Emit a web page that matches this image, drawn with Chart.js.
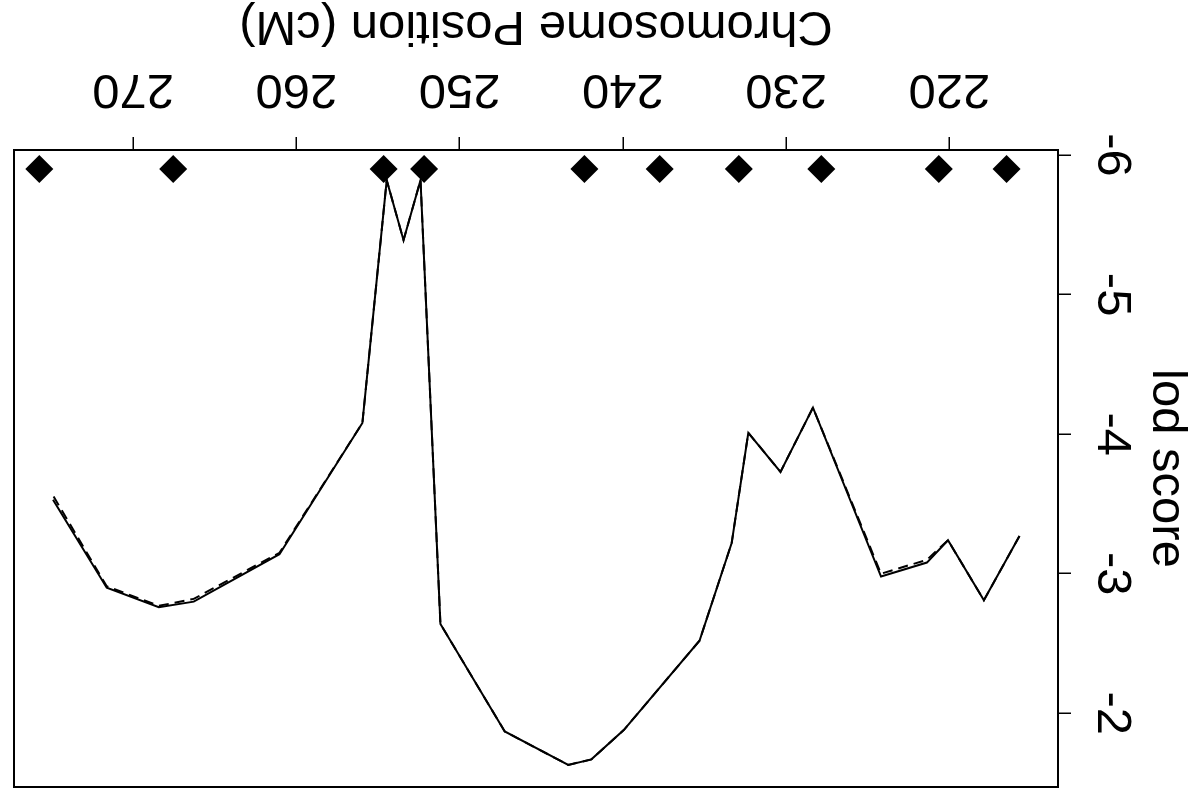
<!DOCTYPE html>
<html>
<head>
<meta charset="utf-8">
<script src="https://cdn.jsdelivr.net/npm/chart.js@4/dist/chart.umd.min.js"></script>
<style>
  html, body { margin: 0; padding: 0; background: #fff; overflow: hidden; }
  /* the reference is drawn upside down, so the whole canvas is turned round */
  #lod-chart { display: block; transform: rotate(180deg); }
</style>
</head>
<body>
<canvas id="lod-chart" width="1199" height="801"></canvas>
<script>
// ---- data ----
const positions = [215.71, 217.89, 220.09, 221.38, 224.19, 228.36, 230.35, 232.32, 233.34, 235.31,
  239.95, 241.93, 243.35, 247.24, 251.18, 252.40, 253.44, 254.47, 255.96, 261.04,
  266.29, 268.43, 271.62, 274.91];
const lodSolid = [-3.27, -2.81, -3.24, -3.08, -2.98, -4.19, -3.73, -4.01, -3.22, -2.52,
  -1.88, -1.67, -1.63, -1.87, -2.64, -5.82, -5.39, -5.82, -4.08, -3.14,
  -2.80, -2.76, -2.90, -3.53];
const lodDashed = [-3.27, -2.81, -3.24, -3.10, -3.00, -4.19, -3.73, -4.01, -3.22, -2.52,
  -1.88, -1.67, -1.63, -1.87, -2.64, -5.82, -5.39, -5.82, -4.08, -3.15,
  -2.82, -2.77, -2.91, -3.56];
const markerPositions = [216.50, 220.65, 227.85, 232.90, 237.75, 242.36, 252.18, 254.66, 267.55, 275.75];
const markerLod = [-5.9, -5.9, -5.9, -5.9, -5.9, -5.9, -5.9, -5.9, -5.9, -5.9];
const xTicks = [220, 230, 240, 250, 260, 270];
const yTicks = [-6, -5, -4, -3, -2];
const xTitle = 'Chromosome Position (cM)';
const yTitle = 'lod score';

const FONT = '49px "Liberation Sans", Arial, Helvetica, sans-serif';

function pairs(xs, ys) {
  return xs.map((x, i) => ({ x: x, y: ys[i] }));
}

// frame round the plot + tick labels and titles (R style)
const axisText = {
  id: 'axisText',
  afterDraw(chart) {
    const ctx = chart.ctx;
    const { left, top, right, bottom } = chart.chartArea;
    const xs = chart.scales.x;
    const ys = chart.scales.y;
    ctx.save();
    ctx.strokeStyle = '#000';
    ctx.lineWidth = 2;
    ctx.strokeRect(left, top, right - left, bottom - top);

    ctx.fillStyle = '#000';
    ctx.font = FONT;
    ctx.textAlign = 'center';
    ctx.textBaseline = 'alphabetic';
    xs.ticks.forEach(t => {
      ctx.fillText(String(t.value), xs.getPixelForValue(t.value), 726);
    });
    ctx.fillText(xTitle, (left + right) / 2, 789);

    ys.ticks.forEach(t => {
      ctx.save();
      ctx.translate(101, ys.getPixelForValue(t.value));
      ctx.rotate(-Math.PI / 2);
      ctx.fillText(String(t.value), 0, 0);
      ctx.restore();
    });
    ctx.save();
    ctx.translate(46, (top + bottom) / 2);
    ctx.rotate(-Math.PI / 2);
    ctx.fillText(yTitle, 0, 0);
    ctx.restore();
    ctx.restore();
  }
};

new Chart(document.getElementById('lod-chart'), {
  type: 'line',
  data: {
    datasets: [
      {
        label: 'markers',
        data: pairs(markerPositions, markerLod),
        showLine: false,
        pointStyle: 'rectRot',
        pointRadius: 14,
        pointBackgroundColor: '#000',
        pointBorderColor: '#000',
        pointBorderWidth: 0,
        order: 0
      },
      {
        label: 'lod',
        data: pairs(positions, lodSolid),
        borderColor: '#000',
        borderWidth: 2,
        pointRadius: 0,
        tension: 0,
        fill: false,
        order: 1
      },
      {
        label: 'lod (dashed)',
        data: pairs(positions, lodDashed),
        borderColor: '#000',
        borderWidth: 2,
        borderDash: [10, 6],
        pointRadius: 0,
        tension: 0,
        fill: false,
        order: 2
      }
    ]
  },
  options: {
    responsive: false,
    animation: false,
    devicePixelRatio: 1,
    layout: { padding: { left: 0, right: 10, top: 8, bottom: 0 } },
    plugins: {
      legend: { display: false },
      tooltip: { enabled: false }
    },
    scales: {
      x: {
        type: 'linear',
        min: 213.35,
        max: 277.3,
        afterBuildTicks: s => { s.ticks = xTicks.map(v => ({ value: v })); },
        afterFit: s => { s.height = 150; },
        ticks: { display: false },
        grid: { drawOnChartArea: false, drawTicks: true, tickLength: 13, color: '#000', lineWidth: 1.5 },
        border: { display: true, color: '#000', width: 2 }
      },
      y: {
        type: 'linear',
        min: -6.036,
        max: -1.472,
        afterBuildTicks: s => { s.ticks = yTicks.map(v => ({ value: v })); },
        afterFit: s => { s.width = 141; },
        ticks: { display: false },
        grid: { drawOnChartArea: false, drawTicks: true, tickLength: 13, color: '#000', lineWidth: 1.5 },
        border: { display: true, color: '#000', width: 2 }
      }
    }
  },
  plugins: [axisText]
});
</script>
</body>
</html>
